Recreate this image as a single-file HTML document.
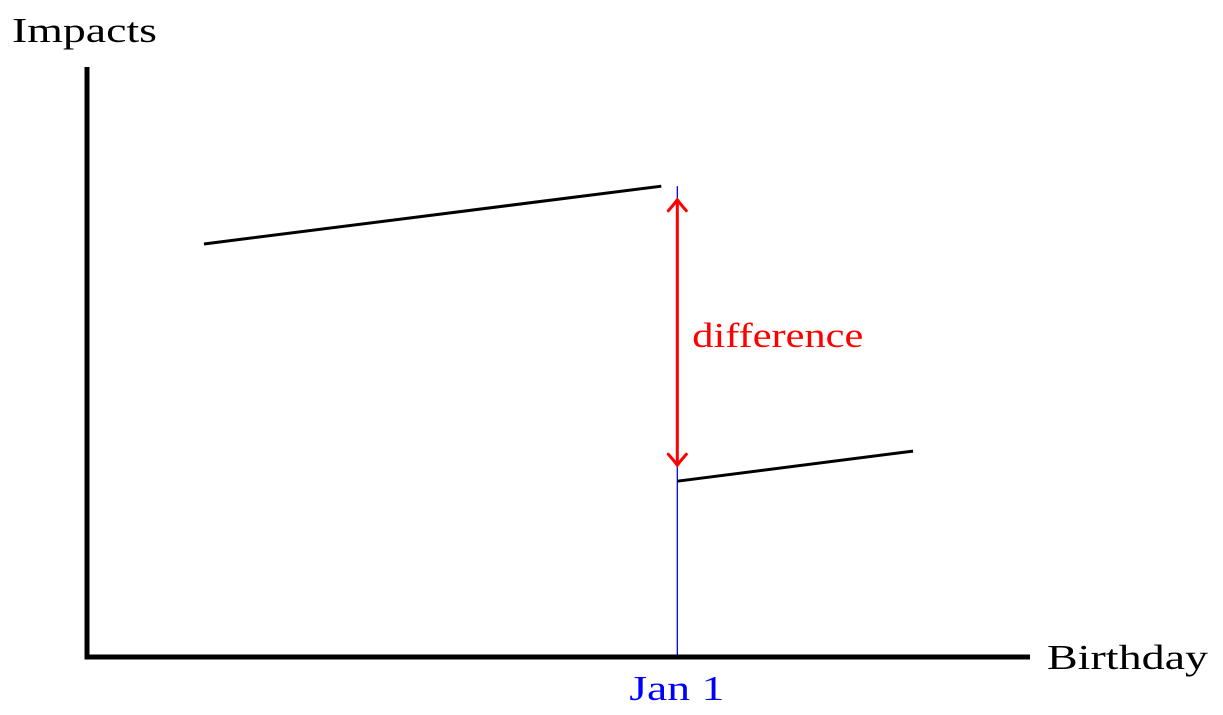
<!DOCTYPE html>
<html><head><meta charset="utf-8"><style>
html,body{margin:0;padding:0;background:#fff;}
svg{display:block;}
text{font-family:"Liberation Serif",serif;}
</style></head><body>
<svg id="chart" width="1223" height="715" viewBox="0 0 1223 715"></svg>
<script>
const segmentNames = ['before-cutoff', 'after-cutoff'];
const segX0 = [12.4, 62.6];
const segX1 = [60.9, 87.6];
const segY0 = [70, 29.8];
const segY1 = [79.8, 34.9];
const cutoffX = 62.6;
const cutoffLabel = 'Jan 1';
const arrowTop = 77.5;
const arrowBottom = 32.5;
const diffLabel = 'difference';

const NS = 'http://www.w3.org/2000/svg';
const svg = document.getElementById('chart');
const xs = v => 87 + v * 9.43;
const ys = v => 657 - v * 5.9;
function mk(tag, attrs, txt) {
  const e = document.createElementNS(NS, tag);
  for (const k in attrs) e.setAttribute(k, attrs[k]);
  if (txt !== undefined) e.textContent = txt;
  svg.appendChild(e);
  return e;
}
let cl = mk('line', {x1: xs(cutoffX), x2: xs(cutoffX), y1: ys(79.8), y2: ys(0), stroke: '#0000ff', 'stroke-width': 1.3});


let ya = mk('line', {x1: 87, x2: 87, y1: 67, y2: 659.5, stroke: '#000', 'stroke-width': 5});


let xa = mk('line', {x1: 84.5, x2: 1030, y1: 657, y2: 657, stroke: '#000', 'stroke-width': 5});


for (let i = 0; i < segX0.length; i++) {
  let s = mk('line', {x1: xs(segX0[i]), y1: ys(segY0[i]), x2: xs(segX1[i]), y2: ys(segY1[i]), stroke: '#000', 'stroke-width': 3});
  
  
}
const ax = xs(cutoffX), at = ys(arrowTop), ab = ys(arrowBottom);
let ar = mk('path', {d: `M${ax},${at} L${ax},${ab} M${ax-9},${at+11} Q${ax-2},${at+3} ${ax},${at} Q${ax+2},${at+3} ${ax+9},${at+11} M${ax-9},${ab-11} Q${ax-2},${ab-3} ${ax},${ab} Q${ax+2},${ab-3} ${ax+9},${ab-11}`, stroke: '#ff0000', 'stroke-width': 3, fill: 'none', 'stroke-linecap': 'round'});


let dl = mk('text', {x: ax + 15, y: 347, fill: '#ff0000', 'font-size': 35, textLength: 171, lengthAdjust: 'spacingAndGlyphs'}, diffLabel);


let jl = mk('text', {x: ax - 48, y: 700, fill: '#0000ff', 'font-size': 35, textLength: 95, lengthAdjust: 'spacingAndGlyphs'}, cutoffLabel);


let yl = mk('text', {x: 12, y: 42, fill: '#000', 'font-size': 35, textLength: 145, lengthAdjust: 'spacingAndGlyphs'}, 'Impacts');


let xl = mk('text', {x: 1047, y: 669, fill: '#000', 'font-size': 35, textLength: 161, lengthAdjust: 'spacingAndGlyphs'}, 'Birthday');


</script>
</body></html>
